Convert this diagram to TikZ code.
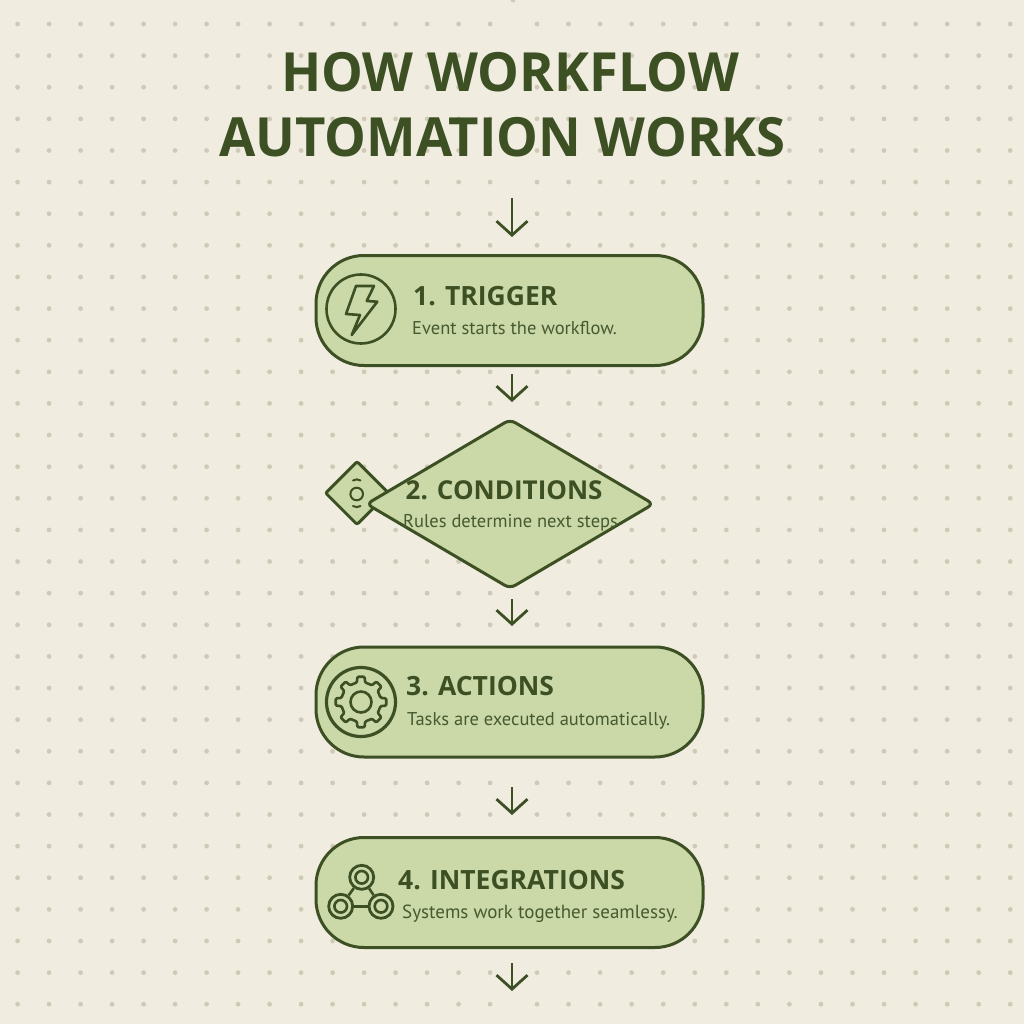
\documentclass[tikz,border=0pt]{standalone}
\usepackage{fontspec}
\setmainfont{PT Sans}
\newfontfamily\headfont{Open Sans}
\newfontfamily\titlefont{Open Sans}[FakeStretch=0.974]
\usetikzlibrary{arrows.meta,shapes.geometric}
\definecolor{paper}{HTML}{F0EDE0}
\definecolor{speck}{HTML}{CFC9B5}
\definecolor{leaf}{HTML}{CBD8A8}
\definecolor{ink}{HTML}{3C5024}
\definecolor{subink}{HTML}{465A30}
\tikzset{
  x=1pt,y=-1pt,
  stage/.style={draw=ink,fill=leaf,line width=3pt,rounded corners=48pt,minimum width=387pt,minimum height=110pt,inner sep=0pt},
  gate/.style={diamond,draw=ink,fill=leaf,line width=3pt,rounded corners=6pt,inner sep=0pt},
  flow/.style={draw=ink,line width=2.8pt,-{Straight Barb[length=14pt,width=31pt,line width=2.8pt]}},
  headline/.style={anchor=base west,inner sep=0pt,text=ink,font=\titlefont\fontsize{54}{60}\selectfont\bfseries},
  stagehead/.style={anchor=base west,inner sep=0pt,text=ink,font=\headfont\fontsize{26.5}{30}\selectfont\bfseries},
  stagetext/.style={anchor=base west,inner sep=0pt,text=subink,font=\fontsize{18.5}{22}\selectfont},
  iconline/.style={draw=ink,line width=2.6pt,line join=round},
  ring/.style={circle,draw=ink,line width=2.8pt,minimum size=24pt,inner sep=0pt},
}
\begin{document}
\begin{tikzpicture}
\useasboundingbox (0,0) rectangle (1024,1024);
\fill[paper] (0,0) rectangle (1024,1024);
% dot grid
\foreach \k in {0,...,31}{
  \foreach \i in {0,...,15}{
    \fill[speck] ({17.6+31.5*\i},{24+31.62*\k}) circle (2.4);
    \fill[speck] ({537+31.55*\i},{24+31.62*\k}) circle (2.4);
  }
}
\fill[speck] (513,0) circle (2.4);
% title
\node[headline] (title1) at (281,92) {HOW WORKFLOW};
\node[headline] (title2) at (219,157) {AUTOMATION WORKS};
% stages
\node[stage] (trigger) at (509.5,310.5) {};
\node[gate,minimum width=64pt,minimum height=64pt,aspect=1,rounded corners=2pt] (smalld) at (357,493) {};
\node[gate,minimum width=288pt,minimum height=170pt,aspect=1.69] (cond) at (510,504) {};
\node[stage] (actions) at (509.5,702) {};
\node[stage] (integ) at (509.5,892.5) {};
% arrows
\coordinate (a1s) at (512,198); \coordinate (a1e) at (512,237);
\coordinate (a2s) at (512,374); \coordinate (a2e) at (512,402);
\coordinate (a3s) at (512,599); \coordinate (a3e) at (512,626);
\coordinate (a4s) at (512,787); \coordinate (a4e) at (512,815);
\coordinate (a5s) at (512,963); \coordinate (a5e) at (512,991);
\draw[flow] (a1s) -- (a1e);
\draw[flow] (a2s) -- (a2e);
\draw[flow] (a3s) -- (a3e);
\draw[flow] (a4s) -- (a4e);
\draw[flow] (a5s) -- (a5e);
% trigger icon
\draw[iconline] (361,309) circle (34.5);
\draw[iconline] (356,286) -- (374,286) -- (366.7,301) -- (377.3,301.7) -- (351.7,335) -- (360,315) -- (346,314) -- cycle;
% small diamond icon
\draw[iconline,line width=2pt] (356.7,494) circle (6.3);
\draw[iconline,line cap=round,line width=2pt] (353,480.5) .. controls (355,479) and (358.5,479) .. (360.5,480.5);
\draw[iconline,line cap=round,line width=2pt] (353,506) .. controls (355,507.5) and (358.5,507.5) .. (360.5,506);
% gear icon
\draw[iconline,line width=3.2pt] (361,702) circle (34.5);
\begin{scope}[shift={(361,702)}]
\draw[iconline,rounded corners=1pt] (-12:20) \foreach \a in {0,45,...,315}{ -- ({\a-12}:20) -- ({\a-8}:25.5) -- ({\a+8}:25.5) -- ({\a+12}:20) } -- cycle;
\draw[iconline] (0,0) circle (10.5);
\end{scope}
% integrations icon
\node[ring] (ntop) at (361.7,877.3) {};
\node[ring] (nleft) at (340.7,906.3) {};
\node[ring] (nright) at (381,906.3) {};
\draw[iconline] (361.7,877.3) circle (6.3);
\draw[iconline] (340.7,906.3) circle (6.3);
\draw[iconline] (381,906.3) circle (6.3);
\draw[iconline] (ntop) -- (nleft);
\draw[iconline] (ntop) -- (nright);
\draw[iconline] (nleft) -- (nright);
% text
\node[stagehead] (h1) at (413,305) {1. TRIGGER};
\node[stagetext] (t1) at (412,334) {Event starts the workflow.};
\node[stagehead,font=\headfont\fontsize{26}{30}\selectfont\bfseries] (h2) at (405.5,499) {2. CONDITIONS};
\node[stagetext] (t2) at (403,527.3) {Rules determine next steps};
\node[stagehead] (h3) at (406,695.7) {3. ACTIONS};
\node[stagetext] (t3) at (407,725) {Tasks are executed automatically.};
\node[stagehead] (h4) at (398,889) {4. INTEGRATIONS};
\node[stagetext,font=\fontsize{19}{22}\selectfont] (t4) at (402,918) {Systems work together seamlessy.};
\end{tikzpicture}
\end{document}
